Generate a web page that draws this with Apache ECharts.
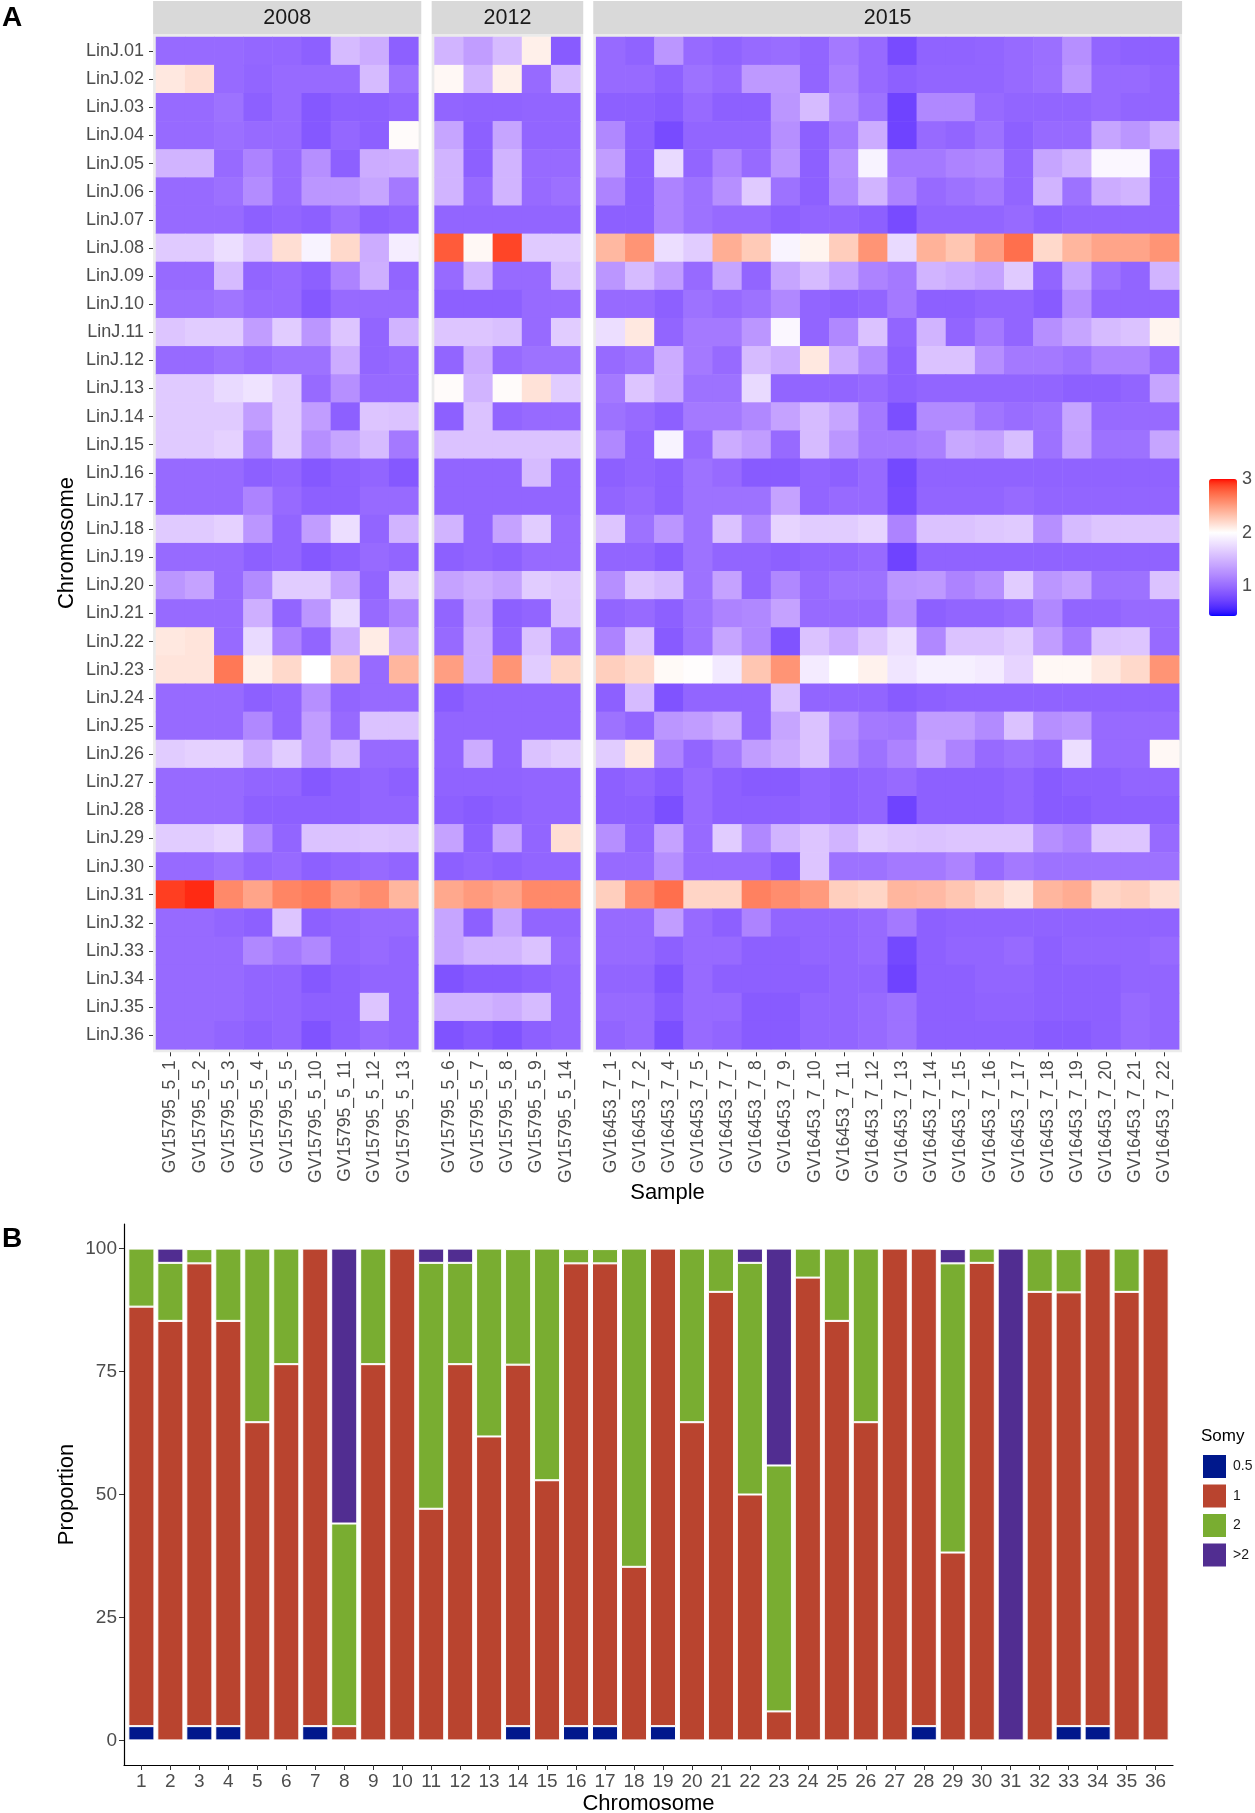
<!DOCTYPE html>
<html><head><meta charset="utf-8">
<script src="https://cdn.jsdelivr.net/npm/echarts@6.0.0/dist/echarts.min.js"></script>
<style>html,body{margin:0;padding:0;background:#fff}#chart{width:1255px;height:1813px}</style>
</head><body><div id="chart"></div>
<script>
// ---------------- DATA ----------------
const chromosomes = ['LinJ.01','LinJ.02','LinJ.03','LinJ.04','LinJ.05','LinJ.06','LinJ.07','LinJ.08','LinJ.09','LinJ.10','LinJ.11','LinJ.12','LinJ.13','LinJ.14','LinJ.15','LinJ.16','LinJ.17','LinJ.18','LinJ.19','LinJ.20','LinJ.21','LinJ.22','LinJ.23','LinJ.24','LinJ.25','LinJ.26','LinJ.27','LinJ.28','LinJ.29','LinJ.30','LinJ.31','LinJ.32','LinJ.33','LinJ.34','LinJ.35','LinJ.36'];
const years = ['2008','2012','2015'];
const samples2008 = ['GV15795_5_1','GV15795_5_2','GV15795_5_3','GV15795_5_4','GV15795_5_5','GV15795_5_10','GV15795_5_11','GV15795_5_12','GV15795_5_13'];
const samples2012 = ['GV15795_5_6','GV15795_5_7','GV15795_5_8','GV15795_5_9','GV15795_5_14'];
const samples2015 = ['GV16453_7_1','GV16453_7_2','GV16453_7_4','GV16453_7_5','GV16453_7_7','GV16453_7_8','GV16453_7_9','GV16453_7_10','GV16453_7_11','GV16453_7_12','GV16453_7_13','GV16453_7_14','GV16453_7_15','GV16453_7_16','GV16453_7_17','GV16453_7_18','GV16453_7_19','GV16453_7_20','GV16453_7_21','GV16453_7_22'];

// somy estimates, one row per chromosome (LinJ.01 ... LinJ.36)
const cnv2008 = [
[1.00,1.00,1.00,0.98,0.98,0.93,1.55,1.45,0.93],
[2.12,2.17,1.00,0.97,1.00,1.00,1.00,1.55,1.05],
[1.00,1.00,1.05,0.93,1.00,0.88,0.93,0.93,0.97],
[1.00,1.00,1.03,1.00,1.00,0.88,0.98,0.93,2.02],
[1.50,1.50,1.00,1.17,1.00,1.25,0.93,1.45,1.47],
[1.00,1.00,1.04,1.23,1.00,1.30,1.30,1.40,1.10],
[1.00,1.00,1.00,0.93,0.97,0.93,1.04,0.93,0.97],
[1.65,1.65,1.78,1.62,2.17,1.92,2.20,1.45,1.88],
[1.00,1.00,1.55,0.97,1.00,0.93,1.17,1.47,0.97],
[1.03,1.03,1.07,1.00,1.00,0.88,1.00,1.00,1.00],
[1.62,1.66,1.66,1.35,1.66,1.30,1.62,0.97,1.50],
[1.00,1.00,1.05,1.00,1.05,1.05,1.45,0.97,1.00],
[1.65,1.65,1.75,1.82,1.65,1.00,1.25,1.00,1.00],
[1.65,1.65,1.65,1.35,1.65,1.35,0.93,1.62,1.60],
[1.65,1.65,1.70,1.20,1.65,1.25,1.40,1.55,1.10],
[1.00,1.00,1.00,0.93,0.97,0.88,0.93,0.97,0.88],
[1.00,1.00,1.00,1.17,1.00,0.93,0.93,1.00,1.00],
[1.65,1.65,1.70,1.30,0.97,1.35,1.78,0.97,1.50],
[1.00,1.00,1.00,0.93,0.97,0.88,0.93,1.00,0.97],
[1.30,1.38,1.00,1.22,1.66,1.66,1.38,0.97,1.60],
[1.00,1.00,1.00,1.47,0.97,1.30,1.75,1.00,1.17],
[2.12,2.14,1.00,1.75,1.17,0.97,1.45,2.10,1.38],
[2.14,2.14,2.68,2.08,2.20,2.00,2.25,1.00,2.38],
[1.00,1.00,1.00,0.93,0.97,1.25,0.97,1.00,1.00],
[1.00,1.00,1.00,1.20,0.97,1.35,1.00,1.60,1.60],
[1.66,1.70,1.70,1.45,1.66,1.35,1.55,1.00,1.00],
[1.00,1.00,1.00,0.97,0.97,0.88,0.93,0.97,0.93],
[1.00,1.00,1.00,0.93,0.93,0.93,0.93,0.97,0.97],
[1.66,1.66,1.72,1.22,0.97,1.60,1.60,1.62,1.60],
[1.00,1.00,1.05,0.97,1.00,0.93,0.97,1.00,0.97],
[2.90,2.95,2.60,2.47,2.62,2.66,2.52,2.58,2.38],
[1.00,1.00,0.97,0.93,1.62,0.93,0.97,1.00,1.00],
[1.00,1.00,1.00,1.20,1.10,1.20,0.97,1.00,0.97],
[1.00,1.00,1.00,0.97,0.97,0.88,0.93,0.97,0.97],
[1.00,1.00,1.00,0.97,0.97,0.93,0.93,1.62,0.97],
[1.00,1.00,0.97,0.93,0.97,0.85,0.93,1.00,0.97]
];
const cnv2012 = [
[1.50,1.35,1.55,2.08,0.90],
[2.04,1.50,2.08,1.00,1.55],
[0.97,0.95,0.95,0.97,0.97],
[1.40,0.93,1.40,0.97,0.97],
[1.50,0.93,1.50,1.00,1.00],
[1.50,1.00,1.50,1.00,1.04],
[0.97,0.97,0.97,0.97,0.97],
[2.80,2.04,2.88,1.65,1.65],
[1.00,1.50,1.00,1.00,1.55],
[0.93,0.93,0.93,1.00,1.00],
[1.62,1.62,1.58,1.00,1.66],
[0.97,1.45,1.00,1.05,1.05],
[2.02,1.50,2.02,2.15,1.66],
[0.93,1.60,0.97,1.00,1.00],
[1.60,1.60,1.60,1.60,1.60],
[0.97,0.97,0.97,1.55,0.97],
[0.97,0.97,0.97,0.97,0.97],
[1.50,0.97,1.38,1.66,1.00],
[0.93,0.97,0.93,1.00,1.00],
[1.38,1.45,1.38,1.66,1.62],
[0.97,1.38,0.93,0.97,1.60],
[1.00,1.45,0.97,1.60,1.05],
[2.50,1.45,2.55,1.66,2.22],
[0.90,0.97,0.97,0.97,0.97],
[0.97,0.97,0.97,0.97,0.97],
[0.97,1.45,0.97,1.60,1.66],
[0.95,0.95,0.95,0.97,0.97],
[0.93,0.90,0.93,0.97,0.97],
[1.38,0.93,1.38,0.97,2.17],
[0.93,0.97,0.93,0.97,0.97],
[2.45,2.52,2.47,2.60,2.60],
[1.40,0.93,1.40,0.97,0.97],
[1.40,1.50,1.50,1.60,1.00],
[0.85,0.90,0.90,0.93,0.97],
[1.50,1.50,1.45,1.55,0.97],
[0.85,0.90,0.85,0.93,0.97]
];
const cnv2015 = [
[1.00,0.95,1.30,1.00,0.95,1.00,1.02,0.97,1.10,1.00,0.80,0.95,0.95,0.97,1.00,1.03,1.25,0.97,0.94,0.94],
[1.00,1.00,0.94,1.05,1.00,1.32,1.32,0.97,1.15,1.00,0.93,0.97,0.97,0.97,1.00,1.04,1.30,1.00,1.00,0.97],
[0.93,0.93,0.90,1.00,0.93,0.93,1.30,1.55,1.20,1.05,0.75,1.20,1.20,1.00,0.97,0.97,0.97,1.00,0.97,0.97],
[1.20,0.93,0.80,0.97,0.97,0.97,1.25,0.93,1.10,1.45,0.75,1.00,0.97,1.05,0.93,1.00,1.00,1.40,1.30,1.47],
[1.35,0.93,1.75,0.97,1.17,1.00,1.30,0.93,1.25,1.92,1.10,1.10,1.17,1.20,0.97,1.40,1.50,1.95,1.95,0.97],
[1.17,0.93,1.17,1.05,1.25,1.65,1.05,0.93,1.22,1.50,1.17,1.00,1.05,1.10,0.97,1.50,1.05,1.45,1.50,0.97],
[0.93,0.93,1.17,1.05,1.00,1.00,0.93,0.97,0.97,0.93,0.80,0.97,0.97,0.97,1.00,0.93,0.97,0.97,0.97,0.97],
[2.37,2.55,1.78,1.66,2.42,2.28,1.93,2.06,2.26,2.55,1.75,2.40,2.30,2.50,2.72,2.20,2.38,2.47,2.47,2.55],
[1.30,1.55,1.35,1.00,1.40,0.97,1.40,1.55,1.38,1.17,1.10,1.50,1.45,1.38,1.65,0.97,1.40,1.05,0.97,1.50],
[1.00,1.00,0.93,1.05,1.00,1.05,1.20,0.97,0.93,0.97,1.10,0.93,0.93,0.97,0.97,0.90,1.25,0.97,0.97,0.97],
[1.78,2.12,0.97,1.10,1.10,1.30,1.95,0.97,1.20,1.60,0.97,1.50,0.97,1.10,0.97,1.25,1.40,1.55,1.60,2.06],
[1.00,1.05,1.45,1.10,1.00,1.55,1.45,2.12,1.45,1.22,0.93,1.60,1.60,1.25,1.10,1.10,1.05,1.17,1.17,1.00],
[1.10,1.62,1.45,1.05,1.05,1.75,0.97,0.97,0.97,1.00,0.93,0.97,0.97,0.97,0.97,0.97,0.93,0.93,0.97,1.40],
[1.05,1.00,0.93,1.10,1.10,1.20,1.38,1.55,1.40,1.10,0.82,1.22,1.22,1.07,1.02,1.05,1.40,1.00,1.00,1.00],
[1.20,0.97,1.92,1.00,1.45,1.35,1.00,1.55,1.30,1.10,1.10,1.15,1.42,1.37,1.57,1.05,1.38,1.05,1.05,1.40],
[0.93,0.97,0.93,1.05,1.00,0.90,0.90,0.97,0.93,1.00,0.78,0.95,0.95,0.95,0.95,0.95,0.95,0.95,0.95,0.95],
[0.97,1.00,0.93,1.05,1.05,1.05,1.38,0.97,1.00,1.00,0.80,0.97,0.97,0.97,1.00,0.97,0.97,0.97,0.97,0.97],
[1.62,1.05,1.30,1.05,1.60,1.20,1.72,1.66,1.66,1.72,1.17,1.60,1.60,1.63,1.65,1.25,1.55,1.62,1.62,1.62],
[0.97,0.97,0.90,1.05,0.97,0.97,0.93,0.97,0.97,1.00,0.75,0.95,0.95,0.95,0.95,0.95,0.95,0.95,0.95,0.95],
[1.25,1.62,1.55,1.05,1.38,0.97,1.20,1.00,1.05,1.05,1.30,1.32,1.17,1.25,1.66,1.30,1.38,1.05,1.05,1.60],
[0.97,1.00,0.93,1.05,1.17,1.20,1.38,1.00,1.00,1.00,1.25,0.93,0.97,0.97,1.00,1.20,0.97,0.97,1.00,1.00],
[1.17,1.62,0.90,1.05,1.40,1.20,0.85,1.60,1.45,1.62,1.78,1.20,1.60,1.60,1.66,1.35,1.10,1.60,1.62,1.00],
[2.25,2.20,2.03,2.01,1.85,2.30,2.55,1.87,2.00,2.07,1.83,1.90,1.90,1.87,1.72,2.04,2.04,2.12,2.20,2.55],
[0.93,1.55,0.85,0.97,0.97,0.97,1.60,0.97,0.97,0.97,0.90,0.93,0.95,0.95,0.95,0.95,0.95,0.95,0.95,0.95],
[1.05,0.97,1.30,1.35,1.45,0.97,1.40,1.60,1.25,1.10,1.08,1.35,1.35,1.22,1.60,1.25,1.30,1.00,1.00,1.00],
[1.66,2.12,1.17,0.97,1.10,1.35,1.45,1.60,1.20,1.05,1.17,1.38,1.17,1.00,1.05,1.00,1.78,1.00,1.00,2.04],
[0.93,0.97,0.90,1.00,0.93,0.90,0.90,0.97,0.93,0.97,1.00,0.93,0.93,0.93,0.97,0.90,0.93,0.93,0.97,0.97],
[0.93,0.93,0.82,1.00,0.93,0.93,0.93,0.97,0.93,0.97,0.75,0.93,0.93,0.93,0.97,0.90,0.90,0.93,0.93,0.93],
[1.25,0.97,1.38,1.00,1.66,1.20,1.50,1.62,1.50,1.66,1.62,1.60,1.62,1.62,1.62,1.25,1.17,1.62,1.62,1.00],
[1.00,1.00,1.25,1.00,1.00,1.00,0.90,1.62,1.05,1.05,1.10,1.10,1.17,1.00,1.10,1.05,1.05,1.05,1.05,1.05],
[2.25,2.58,2.72,2.22,2.22,2.64,2.58,2.52,2.25,2.22,2.38,2.36,2.30,2.22,2.14,2.38,2.43,2.22,2.25,2.17],
[1.00,1.00,1.35,1.00,0.93,1.17,0.97,0.97,0.97,1.00,1.10,0.93,0.95,0.95,0.95,0.95,0.95,0.95,0.95,0.95],
[1.00,1.00,0.93,1.00,1.00,0.93,0.93,0.97,0.97,1.00,0.78,0.93,0.97,0.97,1.00,0.93,0.97,0.97,0.97,1.00],
[0.97,0.97,0.85,1.00,0.93,0.93,0.93,0.93,0.97,0.97,0.75,0.93,0.93,0.97,0.97,0.93,0.93,0.93,0.97,0.97],
[1.00,1.00,0.90,1.00,1.00,0.90,0.90,0.97,0.97,1.00,1.05,0.93,0.93,0.95,0.95,0.93,0.93,0.93,1.00,0.97],
[0.97,1.00,0.82,1.00,0.97,0.90,0.90,0.97,0.97,1.00,1.05,0.93,0.93,0.93,0.93,0.90,0.90,0.93,1.00,0.97]
];
const colorbarTicks = [1, 2, 3];

// Panel B: proportion (%) of samples per somy class, chromosomes 1..36
const chromNumbers = ['1','2','3','4','5','6','7','8','9','10','11','12','13','14','15','16','17','18','19','20','21','22','23','24','25','26','27','28','29','30','31','32','33','34','35','36'];
const somyClasses = ['0.5','1','2','>2'];
const somyHalf = [2.9,0,2.9,2.9,0,0,2.9,0,0,0,0,0,0,2.9,0,2.9,2.9,0,2.9,0,0,0,0,0,0,0,0,2.9,0,0,0,0,2.9,2.9,0,0];
const somyOne  = [85.3,85.3,94.1,82.4,64.7,76.5,97.1,2.9,76.5,100,47.1,76.5,61.8,73.5,52.9,94.1,94.1,35.3,97.1,64.7,91.2,50.0,5.9,94.1,85.3,64.7,100,97.1,38.2,97.1,0,91.2,88.2,97.1,91.2,100];
const somyTwo  = [11.8,11.8,2.9,14.7,35.3,23.5,0,41.2,23.5,0,50.0,20.6,38.2,23.5,47.1,2.9,2.9,64.7,0,35.3,8.8,47.1,50.0,5.9,14.7,35.3,0,0,58.8,2.9,0,8.8,8.8,0,8.8,0];
const somyHigh = [0,2.9,0,0,0,0,0,55.9,0,0,2.9,2.9,0,0,0,0,0,0,0,0,0,2.9,44.1,0,0,0,0,0,2.9,0,100,0,0,0,0,0];
const proportionTicks = [0, 25, 50, 75, 100];

// ---------------- STYLE / LAYOUT ----------------
const FONT = 'Liberation Sans, Arial, Helvetica, sans-serif';
const VMIN = 0.45, VMID = 2, VMAX = 3.0;
const U = 29.15, RH = 28.12, TOP = 37;
const groups = [cnv2008, cnv2012, cnv2015];
const sampleSets = [samples2008, samples2012, samples2015];
const GAPS = [10.4, 10.0];
const gridLefts = [156];
for (let i = 1; i < 3; i++) gridLefts.push(gridLefts[i-1] + (sampleSets[i-1].length + 0.2) * U + GAPS[i-1]);

// Lab interpolation (blue - white - red), like ggplot's gradient
function labToRgb(L, a, b) {
  const fy = (L + 16) / 116, fx = fy + a / 500, fz = fy - b / 200;
  const e = 6 / 29;
  const f = t => t > e ? t * t * t : 3 * e * e * (t - 4 / 29);
  const X = 0.95047 * f(fx), Y = f(fy), Z = 1.08883 * f(fz);
  const lin = [3.2404542*X - 1.5371385*Y - 0.4985314*Z,
               -0.9692660*X + 1.8760108*Y + 0.0415560*Z,
               0.0556434*X - 0.2040259*Y + 1.0572252*Z];
  const g = c => { c = Math.max(0, Math.min(1, c)); return Math.round(255 * (c <= 0.0031308 ? 12.92 * c : 1.055 * Math.pow(c, 1 / 2.4) - 0.055)); };
  return 'rgb(' + lin.map(g).join(',') + ')';
}
function colorAt(v) {
  if (v <= VMID) {
    const t = (VMID - v) / (VMID - VMIN);
    return labToRgb(100 + (32.30 - 100) * t, 79.19 * t, -107.86 * t);
  }
  const t = (v - VMID) / (VMAX - VMID);
  return labToRgb(100 + (53.24 - 100) * t, 80.09 * t, 67.20 * t);
}
const stops = [];
for (let k = 0; k <= 120; k++) stops.push(colorAt(VMIN + (VMAX - VMIN) * k / 120));

// ---------------- OPTION ----------------
const grids = [], xAxes = [], yAxes = [], series = [], graphics = [];

for (let i = 0; i < 3; i++) {
  const n = sampleSets[i].length;
  grids.push({ left: gridLefts[i], top: TOP, width: n * U, height: chromosomes.length * RH });
  xAxes.push({
    gridIndex: i, type: 'category', data: sampleSets[i], position: 'bottom', offset: 3,
    axisLine: { show: false },
    axisTick: { show: true, alignWithLabel: true, length: 4, lineStyle: { color: '#333333' } },
    axisLabel: { rotate: 90, interval: 0, fontSize: 17.5, color: '#4D4D4D', margin: 8, fontFamily: FONT },
    splitLine: { show: false }
  });
  yAxes.push({
    gridIndex: i, type: 'category', data: chromosomes, inverse: true, offset: 3,
    axisLine: { show: false },
    axisTick: { show: i === 0, alignWithLabel: true, length: 4, lineStyle: { color: '#333333' } },
    axisLabel: { show: i === 0, interval: 0, fontSize: 18, color: '#4D4D4D', margin: 9, fontFamily: FONT },
    splitLine: { show: false }
  });
  const data = [];
  groups[i].forEach((row, r) => row.forEach((v, c) => data.push([c, r, v])));
  series.push({ type: 'heatmap', xAxisIndex: i, yAxisIndex: i, data, progressive: 0, emphasis: { disabled: true }, itemStyle: { borderWidth: 0 } });

  const pLeft = gridLefts[i] - 0.1 * U, pW = (n + 0.2) * U;
  graphics.push({ type: 'rect', z: -10, shape: { x: pLeft, y: TOP - 0.1 * RH, width: pW, height: (chromosomes.length + 0.2) * RH }, style: { fill: '#EBEBEB' } });
  graphics.push({ type: 'rect', z: -10, shape: { x: pLeft, y: 1, width: pW, height: TOP - 0.1 * RH - 1 }, style: { fill: '#D9D9D9' } });
  graphics.push({ type: 'text', z: 10, x: pLeft + pW / 2, y: 18, style: { text: years[i], fontSize: 21.5, fontFamily: FONT, fill: '#1A1A1A', align: 'center', verticalAlign: 'middle', textAlign: 'center', textVerticalAlign: 'middle' } });
}

// Panel B: bars grid (index 3) — category band spans 0.1 band inside the axis lines
const BW = 1049 / 36.2;
grids.push({ left: 124 + 0.1 * BW, top: 1224, width: 36 * BW, height: 541 });
xAxes.push({
  gridIndex: 3, type: 'category', data: chromNumbers, position: 'bottom',
  axisLine: { show: false, onZero: false },
  axisTick: { show: true, alignWithLabel: true, length: 5, lineStyle: { color: '#333333' } },
  axisLabel: { show: true, interval: 0, fontSize: 19, color: '#4D4D4D', margin: 7, fontFamily: FONT },
  splitLine: { show: false }
});
yAxes.push({
  gridIndex: 3, type: 'value', min: -5, max: 105, offset: 0.1 * BW,
  axisLine: { show: false, onZero: false },
  axisTick: { show: true, length: 5, lineStyle: { color: '#333333' }, customValues: proportionTicks },
  axisLabel: { show: true, fontSize: 19, color: '#4D4D4D', margin: 7, fontFamily: FONT, customValues: proportionTicks },
  splitLine: { show: false }
});
const somyColors = ['#00188C', '#B9442F', '#79AD31', '#512D91'];
[somyHalf, somyOne, somyTwo, somyHigh].forEach((arr, k) => {
  series.push({
    type: 'bar', name: somyClasses[k], xAxisIndex: 3, yAxisIndex: 3, stack: 'somy', barWidth: '90%',
    data: arr.map(v => (v === 0 ? '-' : v)),
    itemStyle: { color: somyColors[k], borderColor: '#ffffff', borderWidth: 1 },
    emphasis: { disabled: true }
  });
});

// Colorbar axis grid (index 4)
grids.push({ left: 1209, top: 479, width: 28, height: 137 });
xAxes.push({ gridIndex: 4, type: 'value', show: false });
yAxes.push({
  gridIndex: 4, type: 'value', min: VMIN, max: VMAX, position: 'right', z: 10,
  axisLine: { show: false }, splitLine: { show: false },
  axisTick: { show: true, inside: true, length: 5.5, lineStyle: { color: '#ffffff', width: 1 }, customValues: colorbarTicks },
  axisLabel: { show: true, fontSize: 18, color: '#4D4D4D', margin: 8, fontFamily: FONT, customValues: colorbarTicks }
});

// Panel B axis lines (index 5), full extent of the plot region
grids.push({ left: 124, top: 1224, width: 1049, height: 541 });
xAxes.push({ gridIndex: 5, type: 'value', min: 0, max: 1, axisLine: { show: true, onZero: false, lineStyle: { color: '#000', width: 1.2 } }, axisTick: { show: false }, axisLabel: { show: false }, splitLine: { show: false } });
yAxes.push({ gridIndex: 5, type: 'value', min: 0, max: 1, axisLine: { show: true, onZero: false, lineStyle: { color: '#000', width: 1.2 } }, axisTick: { show: false }, axisLabel: { show: false }, splitLine: { show: false } });

// Text graphics
const txt = (text, x, y, opts) => Object.assign({ type: 'text', z: 10, x, y, style: Object.assign({ text, fontFamily: FONT, fill: '#000', align: 'center', verticalAlign: 'middle', textAlign: 'center', textVerticalAlign: 'middle' }, opts.style || {}) }, opts.el || {});
graphics.push(txt('A', 2, 18, { style: { fontSize: 28, fontWeight: 'bold', align: 'left', textAlign: 'left' } }));
graphics.push(txt('B', 2, 1239, { style: { fontSize: 28, fontWeight: 'bold', align: 'left', textAlign: 'left' } }));
graphics.push(txt('Chromosome', 67, 543, { style: { fontSize: 22 }, el: { rotation: Math.PI / 2 } }));
graphics.push(txt('Sample', 667.5, 1193, { style: { fontSize: 22 } }));
graphics.push(txt('Proportion', 67, 1494.5, { style: { fontSize: 22 }, el: { rotation: Math.PI / 2 } }));
graphics.push(txt('Chromosome', 648.5, 1804, { style: { fontSize: 22 } }));
graphics.push(txt('Somy', 1201, 1436, { style: { fontSize: 17, align: 'left', textAlign: 'left' } }));

const option = {
  animation: false,
  backgroundColor: '#ffffff',
  textStyle: { fontFamily: FONT },
  grid: grids, xAxis: xAxes, yAxis: yAxes, series,
  visualMap: {
    type: 'continuous', min: VMIN, max: VMAX, seriesIndex: [0, 1, 2], dimension: 2,
    calculable: false, hoverLink: false, show: true, orient: 'vertical',
    left: 1209, top: 479, itemWidth: 28, itemHeight: 137, padding: 0, text: null,
    inRange: { color: stops }
  },
  legend: {
    data: somyClasses, orient: 'vertical', left: 1201, top: 1453, itemWidth: 25, itemHeight: 25, itemGap: 2.5,
    icon: 'rect', selectedMode: false, padding: 0,
    textStyle: { fontSize: 14, color: '#1A1A1A', fontFamily: FONT, padding: [0, 0, 0, 1] }
  },
  graphic: graphics
};
const chart = echarts.init(document.getElementById('chart'), null, { renderer: 'canvas' });
chart.setOption(option);
</script></body></html>
